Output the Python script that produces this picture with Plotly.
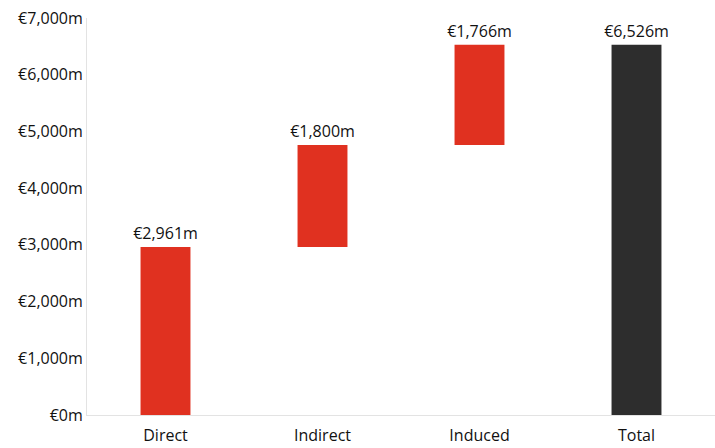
import plotly.graph_objects as go

# Economic impact breakdown (EUR millions)
categories = ["Direct", "Indirect", "Induced", "Total"]
values = [2961, 1800, 1766, 6526]
measures = ["relative", "relative", "relative", "total"]
labels = ["€2,961m", "€1,800m", "€1,766m", "€6,526m"]

RED = "#E03120"
DARK = "#2D2D2D"
FONT = "Open Sans, Segoe UI, sans-serif"

fig = go.Figure(
    go.Waterfall(
        x=categories,
        y=values,
        measure=measures,
        text=labels,
        textposition="outside",
        constraintext="none",
        textfont=dict(size=16, color="#111111", family=FONT),
        increasing=dict(marker=dict(color=RED)),
        decreasing=dict(marker=dict(color=RED)),
        totals=dict(marker=dict(color=DARK)),
        connector=dict(visible=False),
        width=0.318,
        cliponaxis=False,
        hoverinfo="skip",
    )
)

fig.update_layout(
    width=715,
    height=448,
    margin=dict(l=87, r=0, t=18, b=33),
    plot_bgcolor="white",
    paper_bgcolor="white",
    showlegend=False,
    font=dict(family=FONT, size=16, color="#111111"),
    xaxis=dict(
        showline=True,
        linecolor="#E3E3E3",
        linewidth=1,
        showgrid=False,
        ticks="",
        ticklabelstandoff=6,
        tickfont=dict(size=16),
    ),
    yaxis=dict(
        range=[0, 7000],
        dtick=1000,
        tickprefix="€",
        ticksuffix="m",
        tickformat=",",
        showline=True,
        linecolor="#E3E3E3",
        linewidth=1,
        showgrid=False,
        zeroline=False,
        ticks="",
        tickfont=dict(size=16),
    ),
)

fig.write_html("out.html")
